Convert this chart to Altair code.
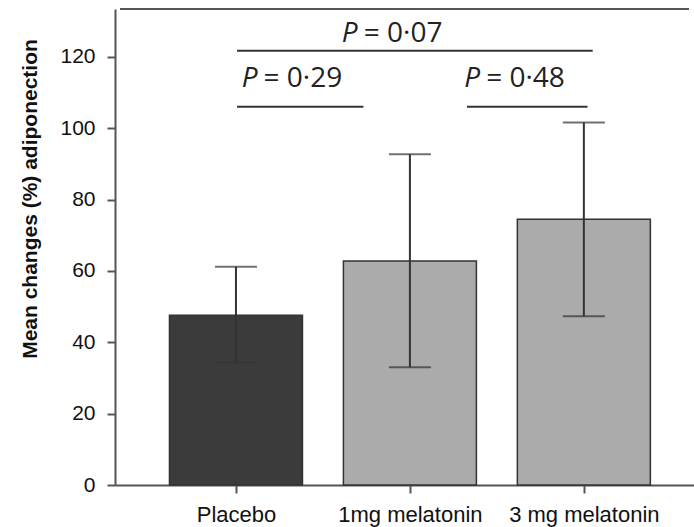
import altair as alt
import pandas as pd

# ---- data ----
groups = ["Placebo", "1mg melatonin", "3 mg melatonin"]
positions = [1, 2, 3]
means = [47.6, 62.8, 74.5]
err_low = [34.3, 33.0, 47.3]
err_high = [61.2, 92.7, 101.6]
fills = ["#3b3b3b", "#ababab", "#ababab"]

sig_values = ["0·07", "0·29", "0·48"]
sig_x1 = [1.006, 1.006, 2.328]
sig_x2 = [3.051, 1.733, 3.021]
sig_line_y = [121.7, 106.0, 106.0]
sig_text_x = [1.70, 1.124, 2.404]
sig_text_y = [124.2, 111.5, 111.5]

y_ticks = [0, 20, 40, 60, 80, 100, 120]
y_max = 133.4
x_domain = [0.3333, 3.6045]

bars = pd.DataFrame({"pos": positions, "group": groups, "mean": means,
                     "lo": err_low, "hi": err_high, "fill": fills})
sig = pd.DataFrame({"x1": sig_x1, "x2": sig_x2, "ly": sig_line_y,
                    "tx": sig_text_x, "ty": sig_text_y,
                    "txt": ["=  " + v for v in sig_values]})

label_expr = " : ".join(
    f"datum.value == {p} ? '{g}'" for p, g in zip(positions[:-1], groups[:-1])
) + f" : '{groups[-1]}'"

x_enc = alt.X("pos:Q",
              scale=alt.Scale(domain=x_domain, nice=False, zero=False),
              axis=alt.Axis(values=positions, labelExpr=label_expr, title=None,
                            grid=False, tickSize=8, labelPadding=11,
                            labelFontSize=22, labelFlush=False))
y_enc = alt.Y("mean:Q",
              scale=alt.Scale(domain=[0, y_max], nice=False),
              axis=alt.Axis(values=y_ticks, title="Mean changes (%) adiponection",
                            grid=False, tickSize=8, labelPadding=12,
                            labelFontSize=21, titleFontSize=21,
                            titleFontWeight="bold", titleFont="Liberation Sans",
                            titleX=-85, titleY=189.5, titleBaseline="middle",
                            titleColor="#111"))

bar_layer = alt.Chart(bars).mark_bar(size=133, stroke="#333333", strokeWidth=1.5).encode(
    x=x_enc, y=y_enc, fill=alt.Fill("fill:N", scale=None))

err_rule = alt.Chart(bars).mark_rule(color="#333333", strokeWidth=2).encode(
    x="pos:Q", y="lo:Q", y2="hi:Q")
cap_lo = alt.Chart(bars).mark_tick(orient="horizontal", size=42, thickness=2,
                                   color="#333333").encode(x="pos:Q", y="lo:Q")
cap_hi = alt.Chart(bars).mark_tick(orient="horizontal", size=42, thickness=2,
                                   color="#333333").encode(x="pos:Q", y="hi:Q")

sig_rules = alt.Chart(sig).mark_rule(color="#333333", strokeWidth=2).encode(
    x="x1:Q", x2="x2:Q", y="ly:Q")
p_text = alt.Chart(sig).mark_text(font="Open Sans", fontSize=28, fontStyle="italic",
                                  align="right", baseline="alphabetic",
                                  color="#222222").encode(
    x="tx:Q", y="ty:Q", text=alt.value("P"))
v_text = alt.Chart(sig).mark_text(font="Open Sans", fontSize=28, align="left",
                                  baseline="alphabetic", dx=6,
                                  color="#222222").encode(
    x="tx:Q", y="ty:Q", text="txt:N")

top_frame = alt.Chart(bars).mark_rule(color="#555555", strokeWidth=2).encode(
    y=alt.datum(y_max), x=alt.datum(x_domain[0]), x2=alt.datum(x_domain[1]))

chart = alt.layer(bar_layer, err_rule, cap_lo, cap_hi, sig_rules, p_text, v_text,
                  top_frame).properties(
    width=579, height=476,
    autosize=alt.AutoSizeParams(type="none"),
    padding={"left": 115, "top": 9, "right": 0, "bottom": 42},
    background="white",
).configure_view(stroke=None).configure_axis(
    domainColor="#555555", domainWidth=2, tickColor="#555555", tickWidth=2,
    labelFont="Liberation Sans", labelColor="#111111",
)

chart.save("out.html", embed_options={"renderer": "svg", "actions": False})
